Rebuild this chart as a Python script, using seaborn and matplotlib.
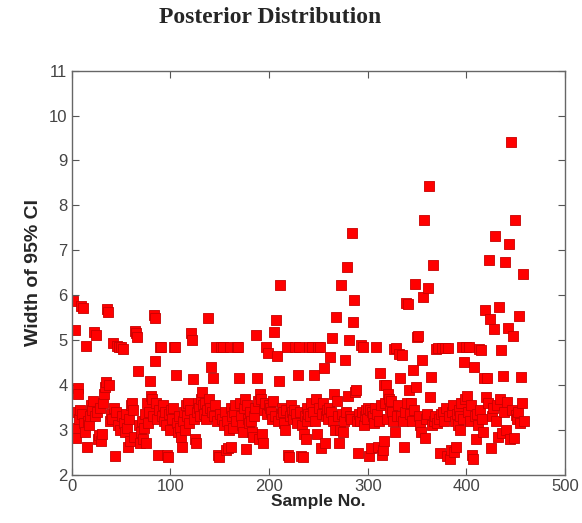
import numpy as np
import pandas as pd
import matplotlib
matplotlib.use("Agg")
import matplotlib.pyplot as plt
import seaborn as sns

# width of the 95% CI for each sample (samples 1..458)
ci_width = [
    5.87, 3.41, 5.22, 2.82, 3.05, 3.93, 3.80, 3.25, 3.45, 5.76,
    3.35, 5.72, 3.15, 2.95, 4.87, 2.63, 3.20, 3.10, 3.30, 3.55,
    3.45, 3.65, 5.18, 3.30, 5.12, 3.40, 2.80, 2.89, 3.50, 2.75,
    2.90, 3.60, 3.80, 3.95, 4.07, 5.69, 5.62, 4.00, 3.20, 3.35,
    3.25, 4.93, 3.50, 2.41, 3.40, 4.88, 3.10, 4.85, 3.00, 4.85,
    3.30, 4.80, 3.15, 2.95, 3.35, 3.05, 2.63, 3.25, 2.75, 3.55,
    3.60, 3.45, 2.85, 5.20, 5.16, 5.08, 4.32, 3.10, 2.70, 2.95,
    3.20, 2.80, 3.05, 3.35, 2.70, 3.60, 3.15, 3.40, 4.10, 3.75,
    3.70, 3.30, 5.56, 5.50, 4.54, 3.60, 3.25, 2.44, 3.45, 4.85,
    4.85, 3.30, 3.55, 3.20, 3.40, 3.10, 2.44, 2.40, 3.35, 3.00,
    3.45, 3.25, 3.50, 4.85, 4.85, 4.22, 3.15, 2.95, 3.30, 3.05,
    2.85, 2.63, 3.20, 3.40, 3.00, 3.55, 3.30, 3.60, 3.15, 3.45,
    5.15, 5.00, 4.13, 3.25, 2.80, 2.70, 3.40, 3.60, 3.50, 3.30,
    3.70, 3.85, 3.55, 3.35, 3.60, 3.25, 3.45, 5.49, 3.70, 3.50,
    4.41, 3.40, 4.15, 3.30, 3.55, 4.85, 3.20, 2.44, 2.40, 3.35,
    4.85, 3.25, 4.85, 3.10, 3.40, 2.55, 3.20, 2.60, 3.00, 4.85,
    2.63, 3.50, 3.30, 3.05, 3.40, 3.55, 3.20, 4.85, 4.85, 4.15,
    3.60, 3.30, 3.10, 2.95, 3.50, 3.70, 2.58, 3.55, 3.25, 3.15,
    3.40, 3.20, 2.95, 2.85, 3.30, 3.50, 5.11, 4.15, 3.65, 2.80,
    3.80, 3.70, 2.90, 2.70, 3.45, 3.60, 4.85, 3.35, 4.71, 3.55,
    3.50, 3.40, 3.25, 3.65, 5.18, 3.30, 5.44, 4.65, 3.20, 4.10,
    6.22, 3.35, 3.50, 3.40, 3.15, 3.00, 3.45, 4.85, 2.44, 2.40,
    3.30, 3.55, 3.40, 3.25, 3.45, 4.85, 3.35, 3.15, 4.22, 4.85,
    3.40, 2.41, 3.10, 2.40, 2.90, 3.30, 2.80, 3.20, 3.50, 3.35,
    4.85, 3.30, 3.60, 4.85, 3.40, 4.22, 3.20, 3.70, 2.90, 4.85,
    3.50, 4.85, 2.60, 3.35, 3.60, 4.37, 2.70, 3.30, 3.45, 3.25,
    3.50, 4.63, 3.40, 5.04, 3.20, 3.80, 3.00, 5.52, 3.65, 3.30,
    2.70, 3.00, 6.22, 3.35, 2.95, 3.20, 4.55, 3.40, 6.62, 3.75,
    5.00, 3.30, 3.25, 7.38, 5.41, 5.89, 3.85, 3.90, 3.20, 2.49,
    3.35, 3.20, 4.89, 3.40, 4.85, 3.10, 3.30, 3.45, 3.25, 3.50,
    2.41, 3.45, 2.60, 3.40, 3.30, 3.15, 3.50, 4.85, 3.35, 2.63,
    3.20, 4.26, 3.55, 2.45, 2.55, 2.75, 3.99, 3.60, 4.00, 3.25,
    3.80, 3.70, 3.50, 3.65, 3.40, 3.20, 4.80, 2.95, 4.82, 3.30,
    3.55, 4.70, 4.15, 3.30, 4.67, 3.20, 2.63, 3.40, 5.83, 3.60,
    5.80, 3.90, 3.35, 3.60, 3.20, 4.33, 3.45, 6.26, 3.96, 5.06,
    5.10, 3.30, 3.10, 2.95, 4.55, 5.96, 7.67, 2.82, 3.25, 3.35,
    6.15, 8.44, 3.74, 4.18, 3.10, 6.67, 3.20, 3.30, 4.80, 3.15,
    4.82, 3.25, 2.48, 3.35, 4.82, 3.40, 3.20, 4.82, 3.50, 2.41,
    4.82, 3.30, 2.35, 2.55, 3.40, 3.55, 2.50, 3.20, 2.63, 3.35,
    3.10, 3.45, 3.00, 3.30, 3.60, 4.85, 3.25, 4.52, 3.70, 4.85,
    3.75, 3.40, 4.85, 3.20, 3.55, 2.44, 2.35, 4.41, 3.30, 2.80,
    3.35, 3.10, 4.80, 3.45, 4.79, 3.25, 2.95, 4.15, 5.67, 3.74,
    4.15, 3.60, 6.78, 5.46, 2.59, 3.30, 3.50, 5.24, 7.31, 3.20,
    3.55, 2.85, 5.73, 3.70, 4.78, 2.93, 4.20, 3.40, 6.74, 3.00,
    3.62, 5.28, 7.13, 2.80, 9.42, 3.45, 5.09, 2.82, 7.67, 3.33,
    3.25, 3.40, 5.53, 3.15, 4.17, 3.59, 6.47, 3.20,
]
sample_no = np.arange(1, len(ci_width) + 1)

x_ticks = [0, 100, 200, 300, 400, 500]
y_ticks = [2, 3, 4, 5, 6, 7, 8, 9, 10, 11]

df = pd.DataFrame({"sample": sample_no, "width": ci_width})

sns.set_style("white")
plt.rcParams["font.family"] = ["Liberation Sans", "DejaVu Sans"]

fig = plt.figure(figsize=(5.82, 5.23), dpi=100)
ax = fig.add_axes([0.123, 0.092, 0.848, 0.773])

sns.scatterplot(data=df, x="sample", y="width", marker="s", s=56,
                color="#ff0000", edgecolor="#c80000", linewidth=0.6, ax=ax)

ax.set_xlim(0, 500)
ax.set_ylim(2, 11)
ax.set_xticks(x_ticks)
ax.set_yticks(y_ticks)
ax.tick_params(direction="in", length=5, width=0.8, color="#555555",
               labelcolor="#444444", labelsize=12, pad=3,
               bottom=True, left=True, top=True, right=True)
for side in ax.spines.values():
    side.set_color("#666666")
    side.set_linewidth(1.0)

ax.set_xlabel("Sample No.", fontsize=12.5, fontweight="bold", labelpad=0)
ax.set_ylabel("Width of 95% CI", fontsize=14, fontweight="bold", labelpad=5)

fig.text(0.464, 0.966, "Posterior Distribution", ha="center", va="center",
         fontsize=17, fontweight="bold", family=["Liberation Serif", "DejaVu Serif"])

plt.savefig("out.png", dpi=100)
